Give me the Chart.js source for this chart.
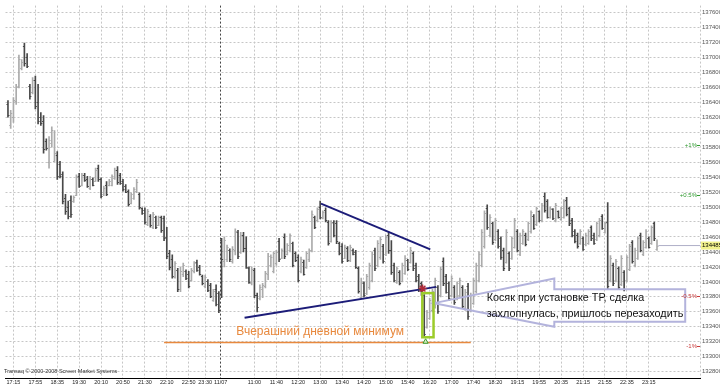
<!DOCTYPE html>
<html>
<head>
<meta charset="utf-8">
<script src="https://cdn.jsdelivr.net/npm/chart.js@4.4.1/dist/chart.umd.min.js"></script>
<style>
  html, body { margin: 0; padding: 0; background: #fff; }
  #wrap { width: 720px; height: 386px; }
</style>
</head>
<body>
<div id="wrap"><canvas id="chart" width="720" height="386"></canvas></div>
<script>
// 5-minute bars, index 0 = 17:05 of the first day, index 78 = 10:00 of 11/07
const hi = [
  136420,136290,136460,136640,137030,136970,137190,137050,136640,136730,
  136750,136640,136260,136220,135910,135940,136070,136020,135740,135610,
  135470,135170,135080,135150,135150,135430,135450,135450,135450,135410,
  135410,135390,135520,135560,135390,135280,135340,135370,135430,135520,
  135540,135450,135370,135300,135230,135190,135260,135370,135190,134990,
  134990,134970,134900,134930,134880,134880,134880,134880,134730,134420,
  134360,134270,134180,134200,134250,134160,134140,134180,134270,134290,
  134220,134090,134090,134030,133980,133900,133960,133870,
  134580,134600,134490,134440,134470,134710,134690,134660,134660,134600,
  134200,134200,134180,133850,133960,133980,134140,134380,134360,134400,
  134420,134580,134440,134640,134510,134640,134530,134400,134360,134330,
  134290,134400,134440,134950,134880,134990,135080,134950,134990,134820,
  134820,134820,134820,134530,134510,134490,134470,134490,134440,134420,
  134200,134050,134000,134100,134250,134400,134450,134550,134600,134500,
  134620,134670,134550,134250,134200,134150,134250,134350,134300,134460,
  134400,134250,134100,134000,133830,133620,133780,133900,134050,133950,
  134200,134320,134100,134000,134080,133950,134000,134050,133950,133900,
  133980,133850,134050,134250,134400,134700,134950,135030,134900,134800,
  134850,134700,134600,134450,134700,134400,134600,134850,134700,134650,
  134700,134650,134800,134950,134900,135000,134950,135050,135190,135100,
  135000,134980,135050,134950,135000,135100,135130,135000,134850,134700,
  134650,134700,134600,134650,134700,134750,134650,134800,134850,134900,
  134800,135060,134350,134250,134300,134200,134350,134150,134350,134500,
  134550,134450,134600,134650,134550,134700,134600,134750,134800,134560
];
const lo = [
  136200,136050,136130,136370,136590,136830,136880,136860,136440,136510,
  136310,136110,136090,135720,135760,135520,135800,135610,135370,135390,
  135040,134900,134840,134860,135060,135150,135260,135280,135340,135260,
  135230,135280,135340,135340,135120,135150,135150,135280,135280,135370,
  135300,135300,135210,135190,135010,135040,135100,135190,134970,134900,
  134770,134750,134730,134710,134710,134750,134660,134550,134310,134160,
  134050,134050,133870,133870,134070,134030,133920,134010,134120,134140,
  134090,133960,133920,133870,133790,133740,133680,133590,
  133790,134200,134270,134270,134250,134360,134310,134380,134400,134180,
  133980,133960,133790,133600,133760,133790,133920,134030,134200,134120,
  134220,134270,134310,134310,134360,134400,134200,134270,134000,134120,
  134090,134180,134270,134400,134710,134800,134840,134840,134800,134490,
  134530,134600,134510,134360,134250,134310,134270,134270,134360,134180,
  133850,133780,133800,133830,133900,134000,134150,134200,134300,134250,
  134350,134380,134100,134000,133980,133960,134000,134100,134150,134250,
  134150,134000,133870,133820,133270,133380,133500,133600,133650,133580,
  133800,133950,133850,133750,133800,133700,133760,133800,133650,133620,
  133500,133600,133700,133850,134000,134200,134450,134700,134600,134500,
  134550,134450,134300,134150,134250,134150,134300,134450,134400,134350,
  134500,134480,134550,134650,134700,134750,134800,134800,134930,134850,
  134850,134830,134800,134850,134820,134850,134880,134750,134600,134520,
  134450,134500,134420,134480,134500,134550,134500,134550,134600,134700,
  134650,133900,134000,133950,134000,133900,133950,133880,134000,134150,
  134250,134200,134300,134400,134350,134450,134450,134500,134550,134420
];
const op = [
  136380,136100,136200,136420,136620,136850,137150,137000,136620,136530,
  136700,136400,136200,136150,135880,135600,135850,135620,135700,135580,
  135440,135120,135000,135100,135080,135160,135420,135300,135430,135380,
  135260,135370,135350,135520,135370,135170,135300,135290,135300,135390,
  135500,135430,135350,135280,135210,135050,135120,135210,135170,134980,
  134960,134770,134880,134730,134870,134760,134860,134850,134600,134380,
  134300,134070,134160,133900,134100,134140,134100,134020,134140,134260,
  134200,134080,133940,134010,133960,133760,133900,133850,
  134560,134280,134300,134420,134280,134420,134660,134400,134630,134450,
  134180,133990,134160,133830,133780,133900,133940,134100,134220,134150,
  134250,134550,134320,134600,134370,134420,134520,134380,134330,134140,
  134270,134200,134300,134420,134860,134820,135000,134850,134960,134800,
  134550,134800,134790,134520,134480,134320,134450,134290,134430,134400,
  134190,133800,133980,133850,133930,134030,134420,134220,134330,134480,
  134370,134620,134430,134230,134000,134130,134010,134120,134290,134260,
  134380,134230,134080,133980,133820,133400,133520,133620,133700,133930,
  133820,134280,134080,133980,133820,133930,133780,133830,133930,133650,
  133950,133620,133720,133880,134030,134230,134480,134980,134630,134780,
  134570,134680,134580,134430,134270,134380,134320,134470,134680,134370,
  134520,134630,134570,134680,134880,134770,134940,134820,135150,135080,
  134860,134970,134820,134940,134840,134870,135100,134980,134830,134680,
  134630,134520,134580,134500,134520,134730,134630,134570,134620,134880,
  134670,134800,134020,134230,134020,134180,133970,134130,134020,134170,
  134530,134220,134320,134630,134370,134470,134580,134520,134780,134440
];
const cl = [
  136230,136250,136430,136600,136980,136940,136920,136880,136480,136700,
  136350,136150,136120,135780,135790,135900,136030,135720,135420,135420,
  135080,134940,134880,134900,135130,135400,135280,135430,135360,135280,
  135380,135300,135500,135380,135150,135260,135180,135350,135410,135490,
  135330,135320,135240,135200,135040,135170,135240,135340,135000,134920,
  134800,134940,134760,134900,134730,134860,134690,134580,134340,134200,
  134080,134250,133900,134150,134220,134050,133950,134160,134250,134160,
  134110,133980,134060,133890,133810,133880,133700,133620,
  134300,134560,134460,134300,134440,134680,134340,134620,134450,134200,
  134000,134170,133820,133660,133930,133960,134120,134350,134330,134380,
  134400,134300,134420,134340,134490,134620,134230,134290,134030,134300,
  134110,134380,134420,134900,134730,134970,134870,134930,134820,134520,
  134790,134620,134540,134380,134280,134470,134290,134470,134370,134200,
  133880,134000,133830,134080,134220,134370,134180,134520,134570,134280,
  134600,134420,134130,134030,134180,133990,134230,134320,134170,134430,
  134180,134030,133900,133850,133300,133600,133760,133880,134020,133610,
  134170,133980,133870,133780,134050,133730,133980,134020,133680,133870,
  133540,133830,134020,134220,134370,134670,134920,134730,134870,134530,
  134820,134480,134330,134180,134670,134180,134580,134820,134430,134630,
  134680,134500,134780,134930,134720,134980,134820,135030,134960,134870,
  134980,134850,135030,134860,134980,135080,134900,134780,134630,134540,
  134480,134680,134440,134630,134680,134580,134520,134780,134830,134720,
  134780,133950,134320,133980,134280,133930,134320,133910,134330,134480,
  134280,134430,134580,134420,134530,134680,134470,134730,134580,134485
];

const tickLabels = ['17:15','17:55','18:35','19:30','20:10','20:50','21:30','22:10','22:50','23:30',
  '11/07','11:00','11:40','12:20','13:00','13:40','14:20','15:00','15:40','16:20',
  '17:00','17:40','18:20','19:15','19:55','20:35','21:15','21:55','22:35','23:15'];
const tickIdx = [2,10,18,26,34,42,50,58,66,72,77.7,90,98,106,114,122,130,138,146,154,
  162,170,178,186,194,202,210,218,226,234];
const dayStart = 77.7;

const yTicks = [132800,133000,133200,133400,133600,133800,134000,134200,134400,134600,
  134800,135000,135200,135400,135600,135800,136000,136200,136400,136600,
  136800,137000,137200,137400,137600];

// drawings made on the chart by hand (bar index, price)
const trendHigh = [[114.3, 135045], [154.2, 134433]];
const trendLow = [[86.4, 133520], [156.4, 133933]];
const dayLow = 133190;
const dayLowSpan = [57, 169];
const lastPrice = 134485;
const pctLevels = [1, 0.5, -0.5, -1];
const tpMark = [151.4, 133910];
const lowMark = [152.5, 133200];
const errBox = { from: 151.3, to: 155.4, top: 133850, bottom: 133260 };
const callout = { tip: [155.6, 133716], baseX: 199.5, baseTop: 134045, baseBottom: 133400,
  bodyTop: 133900, bodyBottom: 133466, right: 247.3 };
const noteLines = ['Косяк при установке ТР, сделка', 'захлопнулась, пришлось перезаходить'];
const noteAt = [174.8, 133782, 133571];
const dayLowText = 'Вчерашний дневной минимум';
const dayLowTextAt = [114, 133334];

const upColor = '#ababab';
const downColor = '#484848';
const navy = '#1c1c78';
const orange = '#e8893e';
const gridColor = '#c6c6c6';

const overlay = {
  id: 'overlay',
  afterDatasetsDraw(chart) {
    const { ctx, scales: { x, y }, chartArea } = chart;
    ctx.save();

    // open / close ticks
    for (let i = 0; i < hi.length; i++) {
      const px = x.getPixelForValue(i);
      ctx.fillStyle = cl[i] >= op[i] ? upColor : downColor;
      ctx.fillRect(px - 1.5, Math.round(y.getPixelForValue(op[i])), 1.5, 1);
      ctx.fillRect(px, Math.round(y.getPixelForValue(cl[i])), 1.5, 1);
    }

    // right border of the plot
    ctx.strokeStyle = gridColor;
    ctx.lineWidth = 1;
    ctx.setLineDash([2, 2]);
    ctx.beginPath();
    ctx.moveTo(chartArea.right + 0.5, chartArea.top);
    ctx.lineTo(chartArea.right + 0.5, chartArea.bottom);
    ctx.stroke();
    ctx.setLineDash([]);

    // callout arrow
    const c = callout;
    const bx = x.getPixelForValue(c.baseX);
    ctx.strokeStyle = '#b3b3dc';
    ctx.lineWidth = 2;
    ctx.beginPath();
    ctx.moveTo(x.getPixelForValue(c.tip[0]), y.getPixelForValue(c.tip[1]));
    ctx.lineTo(bx, y.getPixelForValue(c.baseTop));
    ctx.lineTo(bx, y.getPixelForValue(c.bodyTop));
    ctx.lineTo(x.getPixelForValue(c.right), y.getPixelForValue(c.bodyTop));
    ctx.lineTo(x.getPixelForValue(c.right), y.getPixelForValue(c.bodyBottom));
    ctx.lineTo(bx, y.getPixelForValue(c.bodyBottom));
    ctx.lineTo(bx, y.getPixelForValue(c.baseBottom));
    ctx.closePath();
    ctx.stroke();

    // green box around the bad bar
    ctx.strokeStyle = '#9ccc2a';
    ctx.lineWidth = 2.5;
    const bl = x.getPixelForValue(errBox.from), br = x.getPixelForValue(errBox.to);
    const bt = y.getPixelForValue(errBox.top), bb = y.getPixelForValue(errBox.bottom);
    ctx.strokeRect(bl, bt, br - bl, bb - bt);

    // texts
    ctx.fillStyle = '#111';
    ctx.font = '10.8px "Liberation Sans", Arial, sans-serif';
    ctx.textAlign = 'left';
    ctx.textBaseline = 'middle';
    ctx.fillText(noteLines[0], x.getPixelForValue(noteAt[0]), y.getPixelForValue(noteAt[1]));
    ctx.fillText(noteLines[1], x.getPixelForValue(noteAt[0]), y.getPixelForValue(noteAt[2]));

    ctx.fillStyle = orange;
    ctx.font = '12px "Liberation Sans", Arial, sans-serif';
    ctx.textAlign = 'center';
    ctx.fillText(dayLowText, x.getPixelForValue(dayLowTextAt[0]), y.getPixelForValue(dayLowTextAt[1]));

    // percent levels from last price
    ctx.font = '6px "Liberation Sans", Arial, sans-serif';
    ctx.textAlign = 'right';
    pctLevels.forEach(p => {
      const py = y.getPixelForValue(lastPrice * (1 + p / 100));
      ctx.fillStyle = p > 0 ? '#2f9a2f' : '#c83a3a';
      ctx.fillText((p > 0 ? '+' : '') + p + '%', chartArea.right - 3, py);
      ctx.fillRect(chartArea.right - 3, Math.round(py), 3, 1);
    });

    // last price tag on the axis
    const ly = y.getPixelForValue(lastPrice);
    ctx.fillStyle = '#f2f28c';
    ctx.fillRect(chartArea.right + 1, ly - 4, 19, 8);
    ctx.fillStyle = '#000';
    ctx.textAlign = 'left';
    ctx.fillText(String(lastPrice), chartArea.right + 2, ly);

    // copyright
    ctx.fillStyle = '#333';
    ctx.font = '5.5px "Liberation Sans", Arial, sans-serif';
    ctx.fillText('Transaq \u00a9 2000-2008 Screen Market Systems', 4, chartArea.bottom - 7);

    ctx.restore();
  }
};

const pt = a => ({ x: a[0], y: a[1] });

new Chart(document.getElementById('chart'), {
  type: 'bar',
  data: {
    datasets: [
      {
        type: 'line', data: trendHigh.map(pt), borderColor: navy, borderWidth: 2,
        pointRadius: 0, order: 1
      },
      {
        type: 'line', data: trendLow.map(pt), borderColor: navy, borderWidth: 2,
        pointRadius: 0, order: 1
      },
      {
        type: 'line', data: dayLowSpan.map(v => ({ x: v, y: dayLow })), borderColor: orange,
        borderWidth: 1.5, pointRadius: 0, order: 2
      },
      {
        type: 'line', data: [{ x: hi.length - 0.5, y: lastPrice }, { x: 253, y: lastPrice }],
        borderColor: '#b0b0c8', borderWidth: 1, pointRadius: 0, order: 2
      },
      {
        type: 'line', data: [pt(tpMark)], showLine: false, pointStyle: 'star', pointRadius: 4,
        borderColor: '#b02a3a', borderWidth: 1.5, order: 0
      },
      {
        type: 'line', data: [pt(lowMark)], showLine: false, pointStyle: 'triangle', pointRadius: 3,
        borderColor: '#3a9a2a', backgroundColor: '#d8f0c8', borderWidth: 1, order: 0
      },
      {
        type: 'bar', data: hi.map((h, i) => ({ x: i, y: [lo[i], h] })),
        backgroundColor: hi.map((h, i) => cl[i] >= op[i] ? upColor : downColor),
        barThickness: 1, grouped: false, order: 5
      }
    ]
  },
  options: {
    responsive: false,
    animation: false,
    devicePixelRatio: 1,
    layout: { padding: 0 },
    plugins: { legend: { display: false }, tooltip: { enabled: false } },
    scales: {
      x: {
        type: 'linear', min: -0.9, max: 252.7, offset: false,
        afterBuildTicks: s => { s.ticks = tickIdx.map(v => ({ value: v })); },
        afterFit: s => { s.height = 8; },
        ticks: {
          autoSkip: false, maxRotation: 0, padding: 1, color: '#222',
          font: { family: 'Liberation Sans', size: 5.5 },
          callback: (v, i) => tickLabels[i]
        },
        grid: {
          offset: false, drawTicks: false,
          color: ctx => (ctx.tick && ctx.tick.value === dayStart) ? '#444' : gridColor
        },
        border: { display: true, color: '#000', width: 1, dash: [2, 2] }
      },
      y: {
        position: 'right', min: 132716, max: 137690,
        afterBuildTicks: s => { s.ticks = yTicks.map(v => ({ value: v })); },
        afterFit: s => { s.width = 20; },
        ticks: {
          padding: 2, color: '#555',
          font: { family: 'Liberation Sans', size: 6 },
          callback: v => String(v)
        },
        grid: { drawTicks: false, color: gridColor },
        border: { display: false, dash: [2, 2] }
      }
    }
  },
  plugins: [overlay]
});
</script>
</body>
</html>
